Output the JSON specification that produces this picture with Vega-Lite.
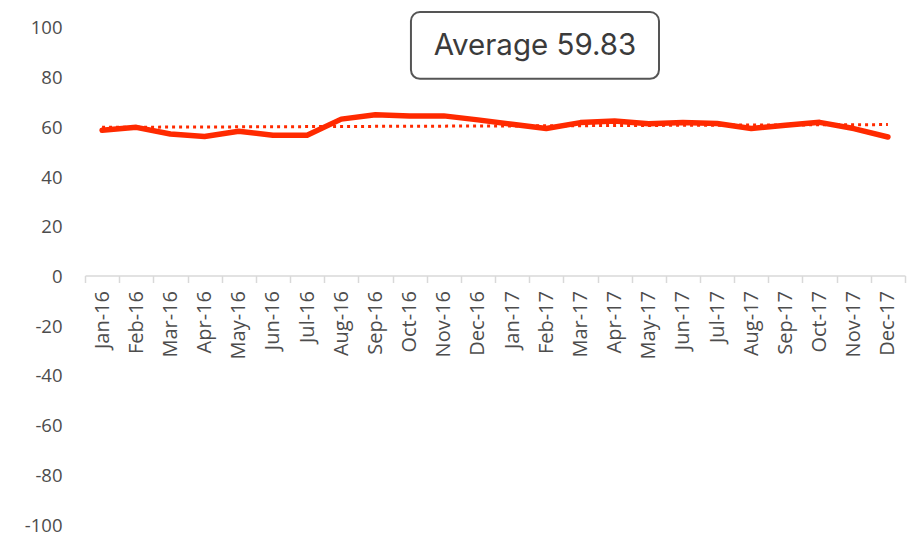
{
  "$schema": "https://vega.github.io/schema/vega-lite/v6.json",
  "width": 820,
  "height": 512,
  "autosize": {"type": "none"},
  "padding": {"left": 85, "top": 12, "right": 5, "bottom": 13},
  "background": "white",
  "config": {"view": {"stroke": null}, "font": "Open Sans"},
  "datasets": {
    "series": [
      {"month": "Jan-16", "value": 58.4},
      {"month": "Feb-16", "value": 59.6},
      {"month": "Mar-16", "value": 56.9},
      {"month": "Apr-16", "value": 55.9},
      {"month": "May-16", "value": 58.0},
      {"month": "Jun-16", "value": 56.4},
      {"month": "Jul-16", "value": 56.4},
      {"month": "Aug-16", "value": 62.9},
      {"month": "Sep-16", "value": 64.7},
      {"month": "Oct-16", "value": 64.2},
      {"month": "Nov-16", "value": 64.2},
      {"month": "Dec-16", "value": 62.6},
      {"month": "Jan-17", "value": 60.8},
      {"month": "Feb-17", "value": 59.1},
      {"month": "Mar-17", "value": 61.5},
      {"month": "Apr-17", "value": 62.1},
      {"month": "May-17", "value": 61.0},
      {"month": "Jun-17", "value": 61.5},
      {"month": "Jul-17", "value": 61.1},
      {"month": "Aug-17", "value": 59.1},
      {"month": "Sep-17", "value": 60.4},
      {"month": "Oct-17", "value": 61.6},
      {"month": "Nov-17", "value": 59.1},
      {"month": "Dec-17", "value": 55.7}
    ],
    "trend": [
      {"month": "Jan-16", "trend": 59.6},
      {"month": "Dec-17", "trend": 60.7}
    ],
    "note": [
      {"x1": 9.54, "x2": 16.8, "y1": 79.1, "y2": 106, "xc": 13.17, "yc": 92.5, "label": "Average 59.83"}
    ]
  },
  "layer": [
    {
      "layer": [
        {
          "data": {"name": "series"},
          "mark": {"type": "line", "color": "#ff2a00", "strokeWidth": 5.5, "strokeCap": "round", "strokeJoin": "round"},
          "encoding": {
            "x": {
              "field": "month",
              "type": "ordinal",
              "sort": null,
              "bandPosition": 0.5,
              "scale": {
                "type": "band",
                "paddingInner": 0,
                "paddingOuter": 0,
                "domain": ["Jan-16","Feb-16","Mar-16","Apr-16","May-16","Jun-16","Jul-16","Aug-16","Sep-16","Oct-16","Nov-16","Dec-16","Jan-17","Feb-17","Mar-17","Apr-17","May-17","Jun-17","Jul-17","Aug-17","Sep-17","Oct-17","Nov-17","Dec-17"]
              },
              "axis": {
                "title": null,
                "labelAngle": -90,
                "tickBand": "extent",
                "offset": -248.5,
                "domainColor": "#d9d9d9",
                "domainWidth": 1.5,
                "tickColor": "#d9d9d9",
                "tickWidth": 1.5,
                "tickSize": 7,
                "labelPadding": 8,
                "labelFont": "Open Sans",
                "labelFontSize": 20,
                "labelColor": "#4d4d4d",
                "grid": false
              }
            },
            "y": {
              "field": "value",
              "type": "quantitative",
              "scale": {"domain": [-100, 106], "nice": false, "zero": false},
              "axis": {
                "title": null,
                "values": [-100, -80, -60, -40, -20, 0, 20, 40, 60, 80, 100],
                "labelExpr": "'' + datum.value",
                "domain": false,
                "ticks": false,
                "grid": false,
                "labelPadding": 23,
                "labelOffset": 1,
                "labelFont": "Open Sans",
                "labelFontSize": 18.5,
                "labelColor": "#4d4d4d"
              }
            }
          }
        },
        {
          "data": {"name": "trend"},
          "mark": {"type": "line", "color": "#ff2a00", "strokeWidth": 3, "strokeDash": [3, 4]},
          "encoding": {
            "x": {"field": "month", "type": "ordinal", "sort": null, "bandPosition": 0.5},
            "y": {"field": "trend", "type": "quantitative"}
          }
        }
      ]
    },
    {
      "data": {"name": "note"},
      "layer": [
        {
          "mark": {"type": "rect", "fill": "white", "stroke": "#555555", "strokeWidth": 2, "cornerRadius": 9},
          "encoding": {
            "x": {"field": "x1", "type": "quantitative", "scale": {"domain": [0, 24], "nice": false, "zero": false}, "axis": null},
            "x2": {"field": "x2"},
            "y": {"field": "y1", "type": "quantitative"},
            "y2": {"field": "y2"}
          }
        },
        {
          "mark": {"type": "text", "font": "Inter", "fontSize": 29.5, "color": "#3b3b3b", "align": "center", "baseline": "middle"},
          "encoding": {
            "x": {"field": "xc", "type": "quantitative", "axis": null},
            "y": {"field": "yc", "type": "quantitative"},
            "text": {"field": "label"}
          }
        }
      ]
    }
  ],
  "resolve": {"scale": {"x": "independent"}}
}
